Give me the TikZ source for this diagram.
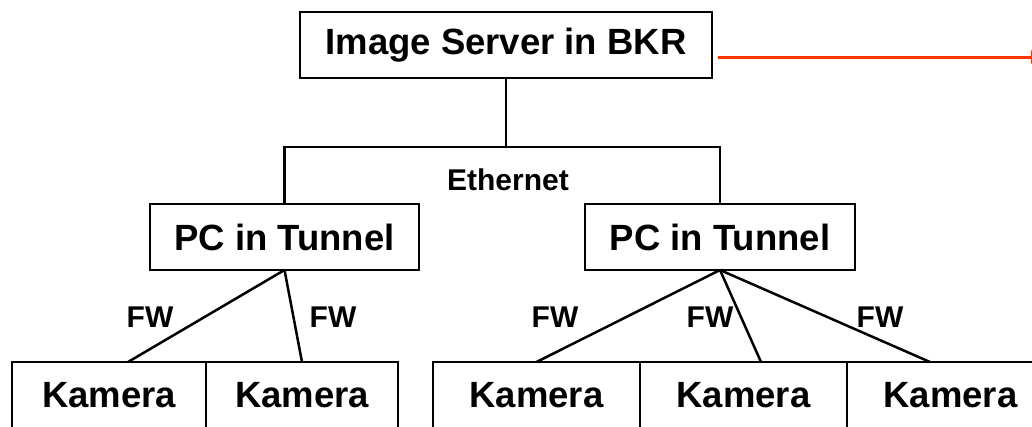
\documentclass[tikz,border=0pt]{standalone}
\usepackage{fontspec}
\setmainfont{Liberation Sans}
\usetikzlibrary{positioning,arrows.meta}
\definecolor{linkred}{RGB}{255,51,0}

\begin{document}
\begin{tikzpicture}[x=1pt,y=-1pt,line width=2.5pt,
        box/.style={draw,line width=2.6pt,outer sep=0pt,inner sep=0pt,font=\fontsize{36.5}{40}\selectfont\bfseries},
        lbl/.style={font=\fontsize{30}{34}\selectfont\bfseries}]
        \clip (0,0) rectangle (1032,426);
        \node[box,minimum width=412pt,minimum height=66pt] (server) at (506,45) {Image Server in BKR};
        \node[box,minimum width=269pt,minimum height=66pt] (pcl) at (284.5,237) {PC in Tunnel};
        \node[box,minimum width=270pt,minimum height=66pt] (pcr) at (720,237) {PC in Tunnel};
        \node[box,minimum width=194pt,minimum height=67pt] (cam1) at (109,395.5) {Kamera};
        \node[box,minimum width=192pt,minimum height=67pt,right=0pt of cam1] (cam2) {Kamera};
        \node[box,minimum width=207pt,minimum height=67pt] (cam3) at (536.5,395.5) {Kamera};
        \node[box,minimum width=207pt,minimum height=67pt,right=0pt of cam3] (cam4) {Kamera};
        \node[box,minimum width=207pt,minimum height=67pt,right=0pt of cam4] (cam5) {Kamera};
        \coordinate (bus) at (506,147);
        \coordinate (offpage) at (1051,57);
        \node[lbl] (eth) at (508,180) {Ethernet};
        \node[lbl] (fw1) at (150,317) {FW};
        \node[lbl] (fw2) at (333,317) {FW};
        \node[lbl] (fw3) at (555,317) {FW};
        \node[lbl] (fw4) at (710,317) {FW};
        \node[lbl] (fw5) at (880,317) {FW};
        \draw (server.south) -- (server.south |- bus);
        \draw (pcl.north) |- (bus) -| (pcr.north);
        \draw (pcl.south) -- ([xshift=19pt]cam1.north);
        \draw (pcl.south) -- (cam2.north);
        \draw (pcr.south) -- (cam3.north);
        \draw (pcr.south) -- ([xshift=17.5pt]cam4.north);
        \draw (pcr.south) -- ([xshift=-20.5pt]cam5.north);
        \draw[-{Latex[length=20pt,width=14pt]},linkred,line width=3pt] ([xshift=6pt,yshift=-12pt]server.east) -- (offpage);
    \end{tikzpicture}
\end{document}
